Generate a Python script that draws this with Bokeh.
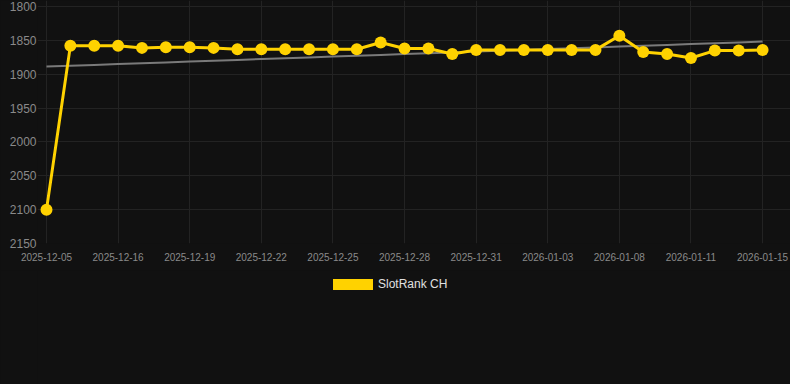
import numpy as np
from bokeh.plotting import figure
from bokeh.layouts import column
from bokeh.models import Range1d, FixedTicker, Legend, LegendItem
from bokeh.embed import file_html
from bokeh.resources import INLINE

# ---- data ----
dates = ["2025-12-05", "2025-12-14", "2025-12-15", "2025-12-16", "2025-12-17",
         "2025-12-18", "2025-12-19", "2025-12-20", "2025-12-21", "2025-12-22",
         "2025-12-23", "2025-12-24", "2025-12-25", "2025-12-26", "2025-12-27",
         "2025-12-28", "2025-12-29", "2025-12-30", "2025-12-31", "2026-01-01",
         "2026-01-02", "2026-01-03", "2026-01-04", "2026-01-06", "2026-01-08",
         "2026-01-09", "2026-01-10", "2026-01-11", "2026-01-13", "2026-01-14",
         "2026-01-15"]
ranks = [2100, 1858, 1858, 1858, 1861, 1860, 1860, 1861, 1863, 1863,
         1863, 1863, 1863, 1863, 1853, 1862, 1862, 1870, 1864, 1864,
         1864, 1864, 1864, 1864, 1843, 1867, 1870, 1876, 1865, 1865,
         1864]
y_ticks = [1800, 1850, 1900, 1950, 2000, 2050, 2100, 2150]
label_every = 3
series_name = "SlotRank CH"

idx = list(range(len(dates)))
slope, intercept = np.polyfit(idx, ranks, 1)
trend = [intercept + slope * i for i in idx]

BG = "#111111"
YELLOW = "#FFD200"
GRID = "#232323"
TICK = "#8a8a8a"
FONT = "Liberation Sans"

# ---- main chart ----
p = figure(width=790, height=270, output_backend="svg", toolbar_location=None,
           x_range=Range1d(-0.377, 31.17), y_range=Range1d(2150, 1791),
           min_border_left=37, min_border_right=0, min_border_top=0,
           min_border_bottom=27,
           background_fill_color=BG, border_fill_color=BG,
           outline_line_color=None)
p.styles = {"background-color": BG}

p.line(idx, trend, line_color="#7a7a7a", line_width=2)
p.line(idx, ranks, line_color=YELLOW, line_width=3)
p.scatter(idx, ranks, size=12, fill_color=YELLOW, line_color=None)

tick_idx = idx[::label_every]
p.xaxis.ticker = FixedTicker(ticks=tick_idx)
p.xaxis.major_label_overrides = {i: dates[i] for i in tick_idx}
p.yaxis.ticker = FixedTicker(ticks=y_ticks)

for ax in (p.xaxis, p.yaxis):
    ax.axis_line_color = None
    ax.major_tick_line_color = None
    ax.minor_tick_line_color = None
    ax.major_tick_out = 0
    ax.major_tick_in = 0
    ax.major_label_text_color = TICK
    ax.major_label_text_font = FONT
p.xaxis.major_label_text_font_size = "10px"
p.yaxis.major_label_text_font_size = "12px"
p.xaxis.major_label_standoff = 9
p.yaxis.major_label_standoff = 1

p.xgrid.grid_line_color = GRID
p.ygrid.grid_line_color = GRID

# ---- legend strip ----
lg = figure(width=790, height=114, output_backend="svg", toolbar_location=None,
            x_axis_type=None, y_axis_type=None, min_border=0,
            x_range=Range1d(-2, -1), y_range=Range1d(-2, -1),
            background_fill_color=BG, border_fill_color=BG,
            outline_line_color=None)
lg.styles = {"background-color": BG}
lg.grid.visible = False
swatch = lg.quad(left=idx, right=idx, top=ranks, bottom=ranks,
                 fill_color=YELLOW, line_color=None)

legend = Legend(items=[LegendItem(label=series_name, renderers=[swatch])],
                location="top_center", orientation="horizontal",
                glyph_width=50, glyph_height=14, label_height=14,
                label_width=122, label_standoff=1, padding=0, margin=7,
                spacing=0, background_fill_alpha=0, border_line_color=None,
                label_text_color="#e0e0e0", label_text_font=FONT,
                label_text_font_size="12px")
lg.add_layout(legend, "center")

layout = column(p, lg, spacing=0, styles={"background-color": BG})
open("out.html", "w").write(file_html(layout, INLINE))
